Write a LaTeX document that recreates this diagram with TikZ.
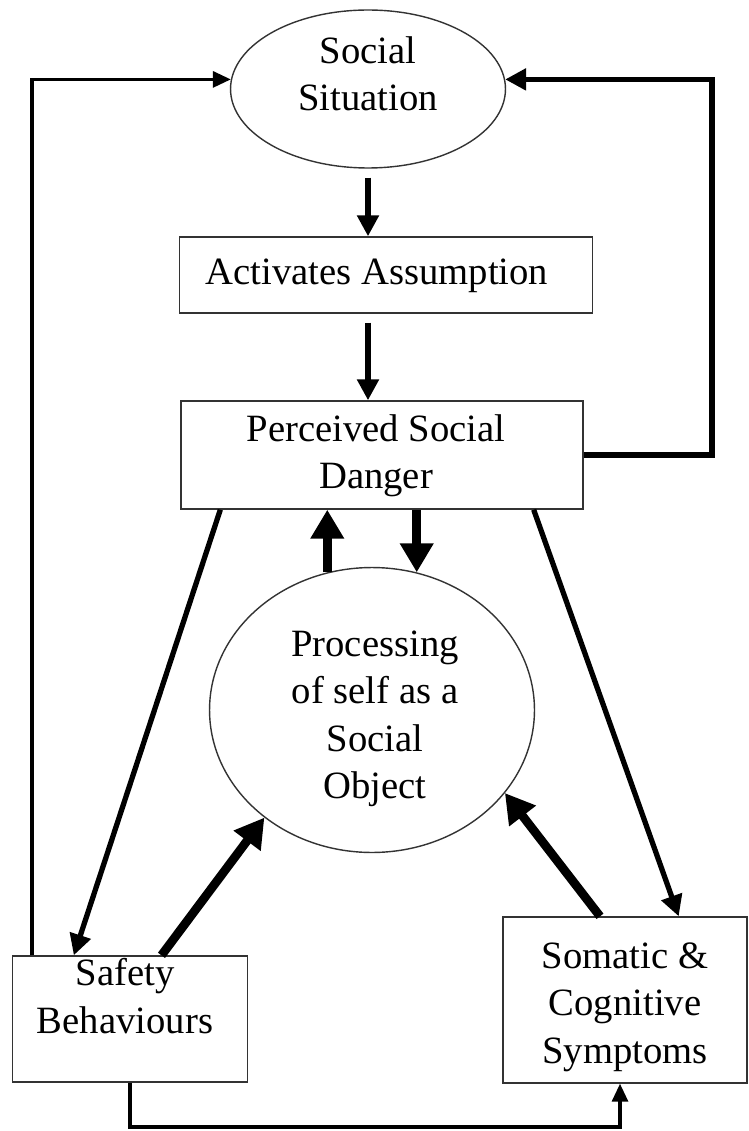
\documentclass[tikz,border=0pt]{standalone}
\usepackage{fontspec}
\setmainfont{Liberation Serif}
\usetikzlibrary{arrows.meta}
\usetikzlibrary{shapes.geometric}

\begin{document}
\begin{tikzpicture}[x=0.02cm,y=-0.02cm,
    font=\fontsize{22}{27}\selectfont,
    box/.style={draw=black!80,line width=0.8pt,rectangle,align=center,inner sep=0pt},
    oval/.style={draw=black!80,line width=0.8pt,ellipse,align=center,inner sep=0pt},
    txt/.style={align=center,inner sep=0pt},
    link/.style={line width=1.8pt,-{Triangle[length=0.36cm,width=0.32cm]}},
    flow/.style={line width=3pt,-{Triangle[length=0.42cm,width=0.42cm]}},
    heavy/.style={line width=5pt,-{Triangle[length=0.58cm,width=0.64cm]}}]
    \useasboundingbox (0,0) rectangle (749,1131);

    \node[oval,minimum width=5.5cm,minimum height=3.16cm] (sit) at (368,89) {};
    \node[txt] (sittxt) at (368,74) {Social\\Situation};
    \node[box,minimum width=8.26cm,minimum height=1.52cm] (act) at (386,275) {};
    \node[txt] (acttxt) at (377,276) {Activates Assumption};
    \node[box,minimum width=8.04cm,minimum height=2.16cm] (pdg) at (382,455) {};
    \node[txt] (pdgtxt) at (376,456) {Perceived Social\\Danger};
    \node[oval,minimum width=6.5cm,minimum height=5.7cm] (proc) at (372,710) {};
    \node[txt] (proctxt) at (375,719) {Processing\\of self as a\\Social\\Object};
    \node[box,minimum width=4.7cm,minimum height=2.52cm] (saf) at (130,1019) {};
    \node[txt] (saftxt) at (125,996) {Safety\\Behaviours};
    \node[box,minimum width=4.88cm,minimum height=3.32cm] (som) at (625,1000) {};
    \node[txt] (somtxt) at (625,1007) {Somatic \&\\Cognitive\\Symptoms};

    \coordinate (lft) at (32,80);
    \coordinate (rgt) at (712,80);
    \coordinate (bot) at (620,1127);

    \draw[flow,shorten <=0.18cm] (sit.south) -- (sit.south |- act.north);
    \draw[flow,shorten <=0.18cm] (sit.south |- act.south) -- (sit.south |- pdg.north);
    \draw[link] (saf.north -| lft) |- (sit.176);
    \draw[flow] (pdg.east) -| (rgt) |- (sit.4);
    \draw[link] (saf.south) |- (bot) -- (bot |- som.south);

    \draw[flow] ([xshift=8mm]pdg.south west) -- ([xshift=12.4mm]saf.north west);
    \draw[flow] ([xshift=-10mm]pdg.south east) -- ([xshift=-13.8mm]som.north east);
    \draw[heavy] (proc.108) -- (proc.108 |- pdg.south);
    \draw[heavy] (proc.72 |- pdg.south) -- (proc.72);
    \draw[heavy] ([xshift=6.3mm]saf.north) -- (proc.225);
    \draw[heavy] ([xshift=-5mm]som.north) -- (proc.328);
\end{tikzpicture}
\end{document}
